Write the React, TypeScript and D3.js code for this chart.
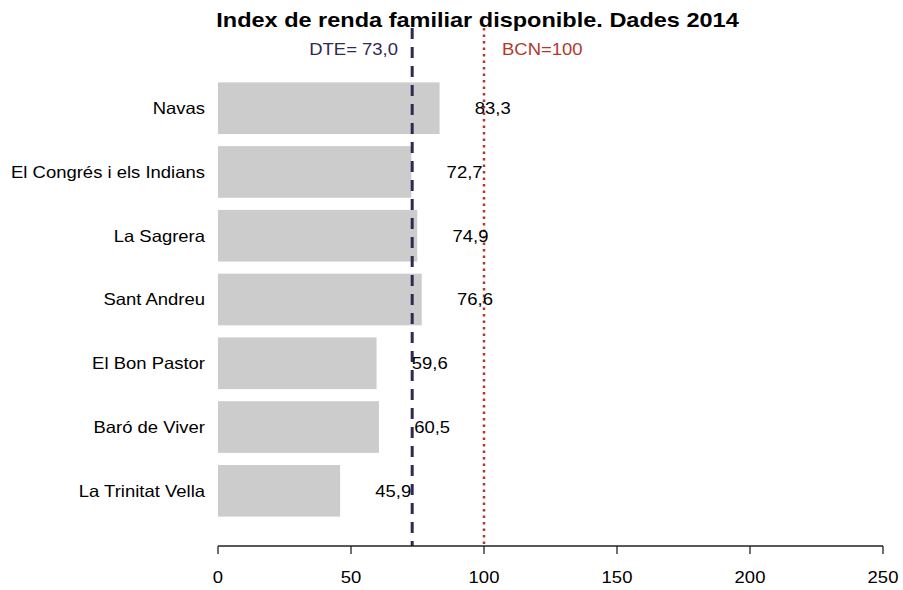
import React from "react";
import * as d3 from "d3";

const categories = [
  "Navas",
  "El Congrés i els Indians",
  "La Sagrera",
  "Sant Andreu",
  "El Bon Pastor",
  "Baró de Viver",
  "La Trinitat Vella",
];
const values = [83.3, 72.7, 74.9, 76.6, 59.6, 60.5, 45.9];
const xTicks = [0, 50, 100, 150, 200, 250];
const dteValue = 73.0;
const bcnValue = 100;
const title = "Index de renda familiar disponible. Dades 2014";

const W = 903;
const H = 590;
const FONT = "'Liberation Sans', Arial, sans-serif";
const SX = 1.12;

function T(props: {
  x: number;
  y: number;
  anchor?: string;
  size: number;
  fill?: string;
  bold?: boolean;
  dy?: string;
  children: React.ReactNode;
}) {
  return (
    <text
      transform={`translate(${props.x},${props.y}) scale(${SX},1)`}
      dy={props.dy}
      textAnchor={props.anchor || "start"}
      fontSize={props.size}
      fontWeight={props.bold ? "bold" : "normal"}
      fill={props.fill || "#000"}
    >
      {props.children}
    </text>
  );
}

export default function App() {
  const x = d3.scaleLinear().domain([0, 250]).range([218, 883]);
  const y = d3
    .scaleBand<string>()
    .domain(categories)
    .range([76, 523])
    .paddingInner(0.19)
    .paddingOuter(0.1);
  const fmt = (v: number) => v.toFixed(1).replace(".", ",");
  const axisY = 546;
  const fs = 16.5;

  return (
    <svg
      width={W}
      height={H}
      style={{ position: "absolute", left: 0, top: 0, background: "#fff" }}
      fontFamily={FONT}
    >
      {categories.map((c, i) => (
        <g key={c}>
          <rect
            x={x(0)}
            y={y(c)!}
            width={x(values[i]) - x(0)}
            height={y.bandwidth()}
            fill="#cccccc"
          />
          <T x={205} y={y(c)! + y.bandwidth() / 2} dy="0.35em" anchor="end" size={fs}>
            {c}
          </T>
        </g>
      ))}

      {/* reference lines */}
      <line
        x1={x(dteValue)}
        x2={x(dteValue)}
        y1={28}
        y2={axisY}
        stroke="#2f2a52"
        strokeWidth={3}
        strokeDasharray="11,8"
      />
      <line
        x1={x(bcnValue)}
        x2={x(bcnValue)}
        y1={28}
        y2={axisY}
        stroke="#b1392c"
        strokeWidth={2.5}
        strokeDasharray="2.5,4"
      />

      {categories.map((c, i) => (
        <T
          key={c + "v"}
          x={x(values[i] + 20)}
          y={y(c)! + y.bandwidth() / 2}
          dy="0.35em"
          anchor="middle"
          size={fs}
        >
          {fmt(values[i])}
        </T>
      ))}

      <T x={398} y={55} anchor="end" size={fs} fill="#2f2a52">
        {"DTE= " + fmt(dteValue)}
      </T>
      <T x={502} y={55} anchor="start" size={fs} fill="#b1392c">
        {"BCN=" + bcnValue}
      </T>

      <T x={(x(0) + 737) / 2} y={26.5} anchor="middle" size={21} bold>
        {title}
      </T>

      {/* axis */}
      <line x1={x(0)} x2={x(250)} y1={axisY} y2={axisY} stroke="#222" strokeWidth={1.3} />
      {xTicks.map((t) => (
        <g key={t}>
          <line x1={x(t)} x2={x(t)} y1={axisY} y2={axisY + 8} stroke="#222" strokeWidth={1.3} />
          <T x={x(t)} y={577} dy="0.35em" anchor="middle" size={fs}>
            {t}
          </T>
        </g>
      ))}
    </svg>
  );
}
